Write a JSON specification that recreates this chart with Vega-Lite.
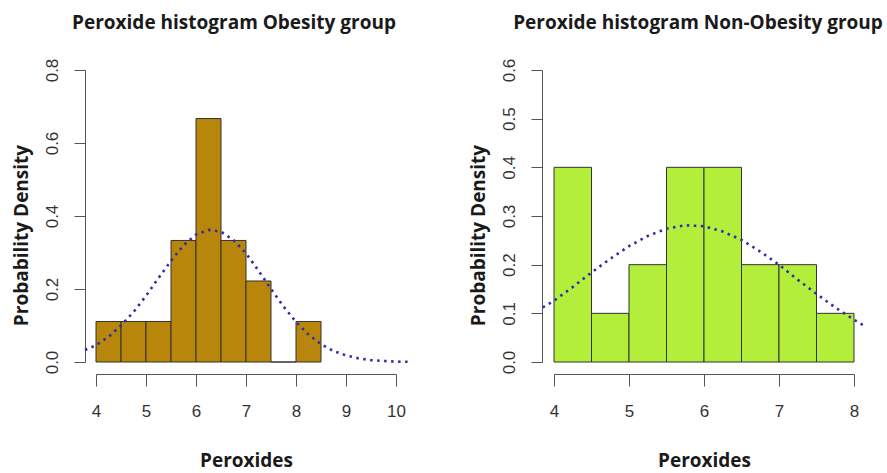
{
  "$schema": "https://vega.github.io/schema/vega-lite/v6.json",
  "background": "white",
  "padding": {"left": 12, "top": 14, "right": 0, "bottom": 0},
  "spacing": 54,
  "config": {
    "view": {"stroke": null},
    "axis": {"grid": false, "domainColor": "#555", "tickColor": "#555", "labelColor": "#333", "labelFont": "Liberation Sans", "labelFontSize": 17, "titleFont": "Open Sans", "titleFontWeight": "bold", "titleFontSize": 19, "titleColor": "#1a1a1a"},
    "title": {"font": "Open Sans", "fontWeight": "bold", "fontSize": 19, "color": "#1a1a1a", "anchor": "middle"}
  },
  "datasets": {
    "obese_bars": [
      {"start": 4.0, "end": 4.5, "density": 0.111},
      {"start": 4.5, "end": 5.0, "density": 0.111},
      {"start": 5.0, "end": 5.5, "density": 0.111},
      {"start": 5.5, "end": 6.0, "density": 0.333},
      {"start": 6.0, "end": 6.5, "density": 0.667},
      {"start": 6.5, "end": 7.0, "density": 0.333},
      {"start": 7.0, "end": 7.5, "density": 0.222},
      {"start": 7.5, "end": 8.0, "density": 0.0},
      {"start": 8.0, "end": 8.5, "density": 0.111}
    ],
    "obese_curve": [
      {"x": 3.78, "y": 0.033}, {"x": 4.0, "y": 0.046}, {"x": 4.25, "y": 0.069}, {"x": 4.5, "y": 0.100},
      {"x": 4.75, "y": 0.137}, {"x": 5.0, "y": 0.181}, {"x": 5.25, "y": 0.230}, {"x": 5.5, "y": 0.277},
      {"x": 5.75, "y": 0.320}, {"x": 6.0, "y": 0.349}, {"x": 6.25, "y": 0.362}, {"x": 6.5, "y": 0.357},
      {"x": 6.75, "y": 0.334}, {"x": 7.0, "y": 0.298}, {"x": 7.25, "y": 0.250}, {"x": 7.5, "y": 0.200},
      {"x": 7.75, "y": 0.152}, {"x": 8.0, "y": 0.110}, {"x": 8.25, "y": 0.075}, {"x": 8.5, "y": 0.049},
      {"x": 8.75, "y": 0.030}, {"x": 9.0, "y": 0.018}, {"x": 9.25, "y": 0.010}, {"x": 9.5, "y": 0.005},
      {"x": 9.75, "y": 0.003}, {"x": 10.0, "y": 0.001}, {"x": 10.26, "y": 0.0006}
    ],
    "non_bars": [
      {"start": 4.0, "end": 4.5, "density": 0.4},
      {"start": 4.5, "end": 5.0, "density": 0.1},
      {"start": 5.0, "end": 5.5, "density": 0.2},
      {"start": 5.5, "end": 6.0, "density": 0.4},
      {"start": 6.0, "end": 6.5, "density": 0.4},
      {"start": 6.5, "end": 7.0, "density": 0.2},
      {"start": 7.0, "end": 7.5, "density": 0.2},
      {"start": 7.5, "end": 8.0, "density": 0.1}
    ],
    "non_curve": [
      {"x": 3.85, "y": 0.112}, {"x": 4.0, "y": 0.126}, {"x": 4.25, "y": 0.154}, {"x": 4.5, "y": 0.184},
      {"x": 4.75, "y": 0.212}, {"x": 5.0, "y": 0.238}, {"x": 5.25, "y": 0.259}, {"x": 5.5, "y": 0.274},
      {"x": 5.75, "y": 0.281}, {"x": 6.0, "y": 0.279}, {"x": 6.25, "y": 0.268}, {"x": 6.5, "y": 0.251},
      {"x": 6.75, "y": 0.227}, {"x": 7.0, "y": 0.200}, {"x": 7.25, "y": 0.169}, {"x": 7.5, "y": 0.140},
      {"x": 7.75, "y": 0.112}, {"x": 8.0, "y": 0.087}, {"x": 8.16, "y": 0.072}
    ]
  },
  "hconcat": [
    {
      "width": 300,
      "height": 292,
      "title": {"text": "Peroxide histogram Obesity group", "offset": 25, "dx": -12},
      "layer": [
        {
          "data": {"name": "obese_bars"},
          "mark": {"type": "bar", "fill": "#B8860B", "stroke": "#333", "strokeWidth": 1, "clip": false},
          "encoding": {
            "x": {"field": "start", "type": "quantitative", "scale": {"domain": [4, 10], "nice": false, "zero": false},
                  "axis": {"values": [4, 5, 6, 7, 8, 9, 10], "format": "d", "offset": 12, "tickSize": 12, "labelPadding": 17, "title": "Peroxides", "titleX": 150, "titleY": 86, "titleAlign": "center", "titleBaseline": "middle", "labelFlush": false}},
            "x2": {"field": "end"},
            "y": {"field": "density", "type": "quantitative", "scale": {"domain": [0, 0.8], "nice": false},
                  "axis": {"values": [0, 0.2, 0.4, 0.6, 0.8], "format": ".1f", "offset": 11, "tickSize": 11, "labelAngle": 270, "labelAlign": "center", "labelBaseline": "bottom", "labelPadding": 13, "title": "Probability Density", "titleX": -64, "titleY": 165, "titleAngle": 270, "titleAlign": "center", "titleBaseline": "middle", "labelFlush": false}},
            "y2": {"datum": 0}
          }
        },
        {
          "data": {"name": "obese_curve"},
          "mark": {"type": "line", "color": "#2e2ea8", "strokeDash": [2.5, 4.5], "strokeWidth": 2.6, "clip": false},
          "encoding": {
            "x": {"field": "x", "type": "quantitative"},
            "y": {"field": "y", "type": "quantitative"}
          }
        }
      ]
    },
    {
      "width": 300,
      "height": 292,
      "title": {"text": "Peroxide histogram Non-Obesity group", "offset": 25, "dx": -6},
      "layer": [
        {
          "data": {"name": "non_bars"},
          "mark": {"type": "bar", "fill": "#B3EE3A", "stroke": "#333", "strokeWidth": 1, "clip": false},
          "encoding": {
            "x": {"field": "start", "type": "quantitative", "scale": {"domain": [4, 8], "nice": false, "zero": false},
                  "axis": {"values": [4, 5, 6, 7, 8], "format": "d", "offset": 12, "tickSize": 12, "labelPadding": 17, "title": "Peroxides", "titleX": 150, "titleY": 86, "titleAlign": "center", "titleBaseline": "middle", "labelFlush": false}},
            "x2": {"field": "end"},
            "y": {"field": "density", "type": "quantitative", "scale": {"domain": [0, 0.6], "nice": false},
                  "axis": {"values": [0, 0.1, 0.2, 0.3, 0.4, 0.5, 0.6], "format": ".1f", "offset": 12, "tickSize": 11, "labelAngle": 270, "labelAlign": "center", "labelBaseline": "bottom", "labelPadding": 13, "title": "Probability Density", "titleX": -64, "titleY": 165, "titleAngle": 270, "titleAlign": "center", "titleBaseline": "middle", "labelFlush": false}},
            "y2": {"datum": 0}
          }
        },
        {
          "data": {"name": "non_curve"},
          "mark": {"type": "line", "color": "#2e2ea8", "strokeDash": [2.5, 4.5], "strokeWidth": 2.6, "clip": false},
          "encoding": {
            "x": {"field": "x", "type": "quantitative"},
            "y": {"field": "y", "type": "quantitative"}
          }
        }
      ]
    }
  ]
}
